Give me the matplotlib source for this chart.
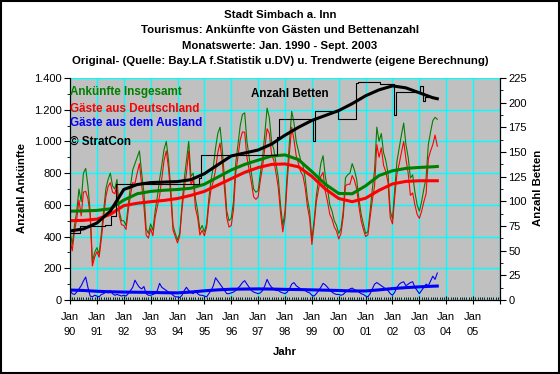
import numpy as np
import matplotlib
matplotlib.use("Agg")
import matplotlib.pyplot as plt
from matplotlib.ticker import FixedLocator, MultipleLocator, FuncFormatter
from matplotlib.patches import Rectangle

plt.rcParams['font.family'] = ['Liberation Sans', 'DejaVu Sans']

# monthly values Jan 1990 - Sept 2003
# Ankuenfte insgesamt (green)
g90 = [440, 350, 470, 560, 700, 620, 800, 830, 720, 560, 240, 300]
g91 = [330, 290, 420, 560, 700, 760, 800, 720, 700, 760, 560, 500]
g92 = [500, 470, 600, 720, 820, 860, 900, 940, 800, 680, 450, 420]
g93 = [480, 440, 560, 650, 760, 850, 950, 1000, 880, 700, 470, 420]
g94 = [380, 420, 600, 760, 880, 1000, 780, 800, 640, 560, 440, 470]
g95 = [430, 480, 640, 760, 840, 960, 1050, 1090, 950, 760, 560, 500]
g96 = [515, 620, 860, 980, 1100, 1170, 1180, 1000, 900, 800, 700, 680]
g97 = [690, 800, 900, 1050, 1210, 1150, 1000, 950, 860, 770, 600, 470]
g98 = [560, 800, 1000, 1190, 1120, 1000, 940, 880, 850, 770, 640, 560]
g99 = [380, 500, 660, 760, 860, 910, 780, 700, 600, 560, 500, 470]
g00 = [420, 450, 560, 770, 790, 800, 860, 820, 760, 640, 540, 480]
g01 = [420, 430, 560, 700, 820, 1090, 1000, 1050, 930, 880, 800, 560]
g02 = [510, 700, 876, 960, 1042, 1116, 980, 900, 769, 790, 680, 600]
g03 = [560, 620, 700, 770, 980, 1060, 1131, 1152, 1140]

# Gaeste aus Deutschland (red)
r90 = [380, 310, 435, 510, 630, 530, 680, 685, 640, 535, 215, 270]
r91 = [305, 270, 385, 520, 650, 715, 740, 680, 670, 725, 530, 475]
r92 = [470, 445, 560, 660, 740, 735, 800, 860, 730, 595, 410, 390]
r93 = [450, 405, 520, 590, 655, 770, 880, 940, 830, 655, 440, 400]
r94 = [360, 405, 570, 700, 800, 940, 730, 760, 580, 520, 410, 440]
r95 = [405, 460, 600, 700, 750, 820, 930, 990, 870, 700, 520, 460]
r96 = [470, 570, 800, 905, 1010, 1060, 1058, 900, 820, 740, 650, 635]
r97 = [650, 755, 840, 960, 1080, 1050, 920, 880, 800, 710, 550, 430]
r98 = [520, 750, 930, 1090, 1010, 910, 860, 810, 785, 710, 590, 515]
r99 = [350, 475, 620, 700, 780, 805, 685, 620, 540, 510, 460, 435]
r00 = [385, 420, 525, 720, 730, 730, 785, 755, 700, 590, 500, 445]
r01 = [400, 410, 520, 630, 720, 980, 900, 960, 850, 810, 740, 520]
r02 = [480, 650, 796, 860, 932, 1000, 890, 800, 660, 675, 600, 540]
r03 = [515, 560, 620, 670, 890, 940, 980, 1040, 970]

# Gaeste aus dem Ausland (blue)
b90 = [60, 40, 35, 50, 70, 90, 120, 145, 80, 25, 20, 30]
b91 = [25, 20, 35, 40, 50, 45, 60, 40, 30, 35, 30, 25]
b92 = [30, 25, 40, 60, 80, 125, 100, 80, 70, 85, 40, 30]
b93 = [30, 35, 40, 60, 105, 80, 70, 60, 50, 45, 30, 20]
b94 = [20, 15, 30, 60, 80, 60, 50, 40, 60, 40, 30, 30]
b95 = [25, 20, 40, 60, 90, 140, 120, 100, 80, 60, 40, 40]
b96 = [45, 50, 60, 75, 90, 110, 122, 100, 80, 60, 50, 45]
b97 = [40, 45, 60, 90, 130, 100, 80, 70, 60, 60, 50, 45]
b98 = [40, 50, 70, 100, 110, 90, 80, 70, 65, 60, 50, 45]
b99 = [30, 25, 40, 60, 80, 105, 95, 80, 60, 50, 40, 35]
b00 = [35, 30, 35, 50, 60, 70, 75, 65, 60, 50, 40, 35]
b01 = [25, 20, 40, 70, 100, 110, 100, 90, 80, 70, 60, 40]
b02 = [30, 50, 80, 100, 110, 115, 90, 100, 110, 115, 80, 60]
b03 = [40, 60, 80, 100, 90, 120, 150, 130, 170]

# Anzahl Betten (black, right axis)
betten = ([68] * 5 + [75] * 11 + [76] * 3 + [85] * 2 + [118] * 37 + [124]
          + [147] * 34 + [165] + [183] * 15 + [161] + [192] * 10 + [183] * 8
          + [220] + [221] * 10 + [219] * 6 + [188] + [211] * 11 + [217, 202]
          + [206] * 5)

# trend values (thick lines), month index -> value
t_months = [0, 6, 12, 18, 24, 30, 36, 42, 48, 54, 60, 66, 72, 78, 84, 90, 96,
            102, 108, 114, 120, 126, 132, 138, 144, 150, 156, 162, 164]
t_gesamt = [560, 562, 565, 575, 630, 670, 685, 692, 697, 705, 730, 775, 820,
            855, 882, 908, 915, 885, 810, 730, 672, 670, 720, 785, 815, 830,
            836, 840, 842]
t_deutsch = [500, 502, 510, 540, 595, 610, 620, 628, 640, 660, 685, 725, 765,
             805, 835, 855, 858, 840, 780, 700, 640, 620, 642, 692, 732, 748,
             752, 752, 752]
t_ausland = [63, 60, 55, 52, 50, 49, 48, 46, 45, 50, 58, 64, 68, 69, 70, 69,
             67, 66, 64, 62, 60, 57, 57, 64, 72, 78, 83, 87, 88]
t_betten = [70, 72, 78, 90, 112, 117, 119, 119.5, 120, 122, 128, 137, 146,
            149, 152, 158, 167, 175, 182, 187, 192, 199, 207, 213, 217, 215,
            210, 205, 204]

gesamt = g90 + g91 + g92 + g93 + g94 + g95 + g96 + g97 + g98 + g99 + g00 + g01 + g02 + g03
deutsch = r90 + r91 + r92 + r93 + r94 + r95 + r96 + r97 + r98 + r99 + r00 + r01 + r02 + r03
ausland = b90 + b91 + b92 + b93 + b94 + b95 + b96 + b97 + b98 + b99 + b00 + b01 + b02 + b03
months = np.arange(len(gesamt))

year_labels = ["90", "91", "92", "93", "94", "95", "96", "97", "98", "99",
               "00", "01", "02", "03", "04", "05"]

W, H = 560, 374
fig = plt.figure(figsize=(W / 100, H / 100), dpi=100)
fig.patch.set_facecolor("white")
fig.patches.append(Rectangle((0.001, 0.002), 0.997, 0.995, transform=fig.transFigure,
                             fill=False, edgecolor="black", linewidth=1.5))

ax = fig.add_axes([70 / W, 1 - 300 / H, 430 / W, 222 / H])
ax.set_facecolor("#C0C0C0")
ax2 = ax.twinx()

grid_c = "#00FFFF"
ax.set_xlim(0, 192)
ax.set_ylim(0, 1400)
ax2.set_ylim(0, 225)

ax.xaxis.set_major_locator(FixedLocator(np.arange(0, 193, 12)))
ax.xaxis.set_minor_locator(MultipleLocator(1))
ax.set_xticklabels(["Jan\n" + y for y in year_labels] + [""], fontsize=8, linespacing=1.55)
ax.yaxis.set_major_locator(MultipleLocator(200))
ax.yaxis.set_minor_locator(MultipleLocator(100))
ax.yaxis.set_major_formatter(FuncFormatter(lambda v, p: f"{int(v):,}".replace(",", ".")))
ax2.yaxis.set_major_locator(MultipleLocator(25))
ax2.yaxis.set_minor_locator(MultipleLocator(12.5))

ax.grid(True, which="major", color=grid_c, linewidth=1.0)
ax.set_axisbelow(True)
ax.tick_params(axis="x", which="major", direction="inout", length=6, width=0.8, pad=6, labelsize=8)
ax.tick_params(axis="x", which="minor", direction="in", length=2, width=0.6)
ax.tick_params(axis="y", which="major", direction="out", length=4, width=0.8, labelsize=8, pad=2)
ax.tick_params(axis="y", which="minor", direction="out", length=2, width=0.6)
ax2.tick_params(axis="y", which="major", direction="out", length=4, width=0.8, labelsize=8, pad=2)
ax2.tick_params(axis="y", which="minor", direction="out", length=2, width=0.6)
for a in (ax, ax2):
    a.spines["top"].set_visible(False)
    for s in ("left", "right", "bottom"):
        a.spines[s].set_linewidth(0.8)

# thin monthly lines
ax.plot(months, gesamt, color="#008000", linewidth=0.8)
ax.plot(months, deutsch, color="#FF0000", linewidth=0.8)
ax.plot(months, ausland, color="#0000FF", linewidth=0.8)
# trend lines
ax.plot(t_months, t_gesamt, color="#008000", linewidth=2.2)
ax.plot(t_months, t_deutsch, color="#FF0000", linewidth=2.2)
ax.plot(t_months, t_ausland, color="#0000FF", linewidth=2.2)

ax2.plot(np.arange(len(betten)), betten, color="black", linewidth=0.8, drawstyle="steps-mid")
ax2.plot(t_months, t_betten, color="black", linewidth=2.2)

# legend-like labels
fs = 8.4
fig.text(70 / W, 1 - 92 / H, "Ankünfte Insgesamt", color="#008000", fontsize=fs, fontweight="bold", va="center")
fig.text(70 / W, 1 - 108.5 / H, "Gäste aus Deutschland", color="#FF0000", fontsize=fs, fontweight="bold", va="center")
fig.text(70 / W, 1 - 123 / H, "Gäste aus dem Ausland", color="#0000FF", fontsize=fs, fontweight="bold", va="center")
fig.text(70 / W, 1 - 141.5 / H, "© StratCon", color="black", fontsize=fs, fontweight="bold", va="center")
fig.text(251 / W, 1 - 94 / H, "Anzahl Betten", color="black", fontsize=fs, fontweight="bold", va="center")

titles = ["Stadt Simbach a. Inn",
          "Tourismus: Ankünfte von Gästen und Bettenanzahl",
          "Monatswerte: Jan. 1990 - Sept. 2003",
          "Original- (Quelle: Bay.LA f.Statistik u.DV) u. Trendwerte (eigene Berechnung)"]
for i, t in enumerate(titles):
    fig.text(280 / W, 1 - (15 + 15.3 * i) / H, t, ha="center", va="center", fontsize=8.2, fontweight="bold")

fig.text(22 / W, 1 - 188 / H, "Anzahl Ankünfte", rotation=90, ha="center", va="center", fontsize=8.2, fontweight="bold")
fig.text(538 / W, 1 - 188 / H, "Anzahl Betten", rotation=90, ha="center", va="center", fontsize=8.2, fontweight="bold")
fig.text(285 / W, 1 - 352 / H, "Jahr", ha="center", va="center", fontsize=8.2, fontweight="bold")

fig.savefig("out.png", dpi=100)
